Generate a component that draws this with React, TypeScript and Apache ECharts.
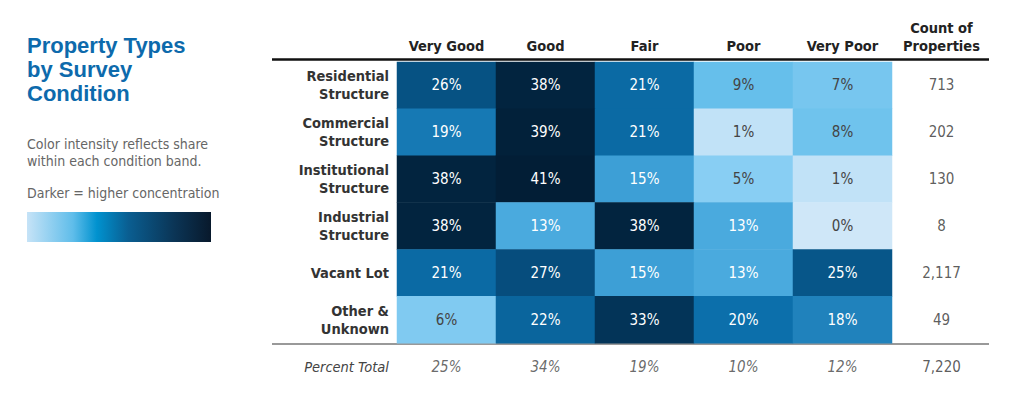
import React, { useEffect, useRef } from "react";
import * as echarts from "echarts";

const conditions = ["Very Good", "Good", "Fair", "Poor", "Very Poor"];
const countHeader = "Count of\nProperties";
const propertyTypes = [
  "Residential\nStructure",
  "Commercial\nStructure",
  "Institutional\nStructure",
  "Industrial\nStructure",
  "Vacant Lot",
  "Other &\nUnknown",
];
const totalLabel = "Percent Total";
// share (%) per property type, per condition
const residential = [26, 38, 21, 9, 7];
const commercial = [19, 39, 21, 1, 8];
const institutional = [38, 41, 15, 5, 1];
const industrial = [38, 13, 38, 13, 0];
const vacantLot = [21, 27, 15, 13, 25];
const otherUnknown = [6, 22, 33, 20, 18];
const counts = [713, 202, 130, 8, 2117, 49];
const percentTotal = [25, 34, 19, 10, 12];
const totalCount = 7220;

const rows = [residential, commercial, institutional, industrial, vacantLot, otherUnknown];

const FONT = "'Liberation Sans Narrow', 'DejaVu Sans Condensed', Arial, sans-serif";
const TITLE_FONT = "'Liberation Sans', Arial, Helvetica, sans-serif";

export default function App() {
  const ref = useRef<HTMLDivElement>(null);
  useEffect(() => {
    document.body.style.margin = "0";
    const chart = echarts.init(ref.current!, null, { renderer: "svg" });

    const heatData: any[] = [];
    rows.forEach((r, yi) =>
      r.forEach((v, xi) =>
        heatData.push({
          value: [xi, yi, v],
          label: { color: v >= 10 ? "#ffffff" : "#444444" },
        })
      )
    );
    const countData: any[] = counts.map((c, i) => ({
      name: c.toLocaleString("en-US"),
      value: [5, i],
    }));
    countData.push({ name: totalCount.toLocaleString("en-US"), value: [5, 6] });
    const totalData = percentTotal.map((p, i) => ({ name: `${p}%`, value: [i, 6] }));

    chart.setOption({
      animation: false,
      grid: { left: 397, right: 33, top: 62, height: 328 },
      xAxis: {
        type: "category",
        position: "top",
        data: [...conditions, countHeader],
        axisLine: { show: false },
        axisTick: { show: false },
        splitLine: { show: false },
        axisLabel: {
          interval: 0,
          fontFamily: FONT,
          fontSize: 14.5,
          fontWeight: "bold",
          color: "#222222",
          lineHeight: 18,
          margin: 7,
        },
      },
      yAxis: {
        type: "category",
        inverse: true,
        data: [
          ...propertyTypes,
          { value: totalLabel, textStyle: { fontStyle: "italic", fontWeight: "normal", color: "#444444" } },
        ],
        axisLine: { show: false },
        axisTick: { show: false },
        splitLine: { show: false },
        axisLabel: {
          interval: 0,
          fontFamily: FONT,
          fontSize: 14.5,
          fontWeight: "bold",
          color: "#333333",
          lineHeight: 18,
          margin: 8,
        },
      },
      visualMap: {
        show: false,
        type: "continuous",
        seriesIndex: 0,
        dimension: 2,
        min: 0,
        max: 40,
        inRange: {
          color: [
            "#cfe7f8",
            "#88cef3",
            "#5ebbe9",
            "#3d9fd6",
            "#0c6fab",
            "#075689",
            "#04406a",
            "#032c4c",
            "#021e36",
          ],
        },
      },
      series: [
        {
          type: "heatmap",
          data: heatData,
          label: {
            show: true,
            fontFamily: FONT,
            fontSize: 15,
            formatter: (p: any) => `${p.value[2]}%`,
          },
          itemStyle: { borderWidth: 0 },
          emphasis: { disabled: true },
        },
        {
          type: "scatter",
          data: countData,
          symbolSize: 0.01,
          label: {
            show: true,
            position: "inside",
            fontFamily: FONT,
            fontSize: 15,
            color: "#333333",
            formatter: (p: any) => p.name,
          },
          silent: true,
        },
        {
          type: "scatter",
          data: totalData,
          symbolSize: 0.01,
          label: {
            show: true,
            position: "inside",
            fontFamily: FONT,
            fontSize: 15,
            fontStyle: "italic",
            color: "#444444",
            formatter: (p: any) => p.name,
          },
          silent: true,
        },
      ],
      graphic: [
        {
          type: "line",
          shape: { x1: 272, y1: 59.5, x2: 989, y2: 59.5 },
          style: { stroke: "#111111", lineWidth: 2.5 },
        },
        {
          type: "line",
          shape: { x1: 272, y1: 344, x2: 989, y2: 344 },
          style: { stroke: "#777777", lineWidth: 1.5 },
        },
        {
          type: "text",
          left: 27,
          top: 33,
          style: {
            text: "Property Types\nby Survey\nCondition",
            fontFamily: TITLE_FONT,
            fontSize: 22,
            fontWeight: "bold",
            lineHeight: 24,
            fill: "#0d6aac",
          },
        },
        {
          type: "text",
          left: 27,
          top: 135,
          style: {
            text: "Color intensity reflects share\nwithin each condition band.",
            fontFamily: FONT,
            fontSize: 14,
            lineHeight: 17,
            fill: "#666666",
          },
        },
        {
          type: "text",
          left: 27,
          top: 186,
          style: {
            text: "Darker = higher concentration",
            fontFamily: FONT,
            fontSize: 14,
            fill: "#666666",
          },
        },
        {
          type: "rect",
          shape: { x: 27, y: 212, width: 184, height: 30 },
          style: {
            fill: new echarts.graphic.LinearGradient(0, 0, 1, 0, [
              { offset: 0, color: "#c6e3f7" },
              { offset: 0.25, color: "#5fbdea" },
              { offset: 0.38, color: "#0092cf" },
              { offset: 0.55, color: "#0a5e91" },
              { offset: 0.8, color: "#0b3556" },
              { offset: 1, color: "#08192c" },
            ]),
          },
        },
      ],
    });
    return () => chart.dispose();
  }, []);
  return <div ref={ref} style={{ width: 1024, height: 404 }} />;
}
